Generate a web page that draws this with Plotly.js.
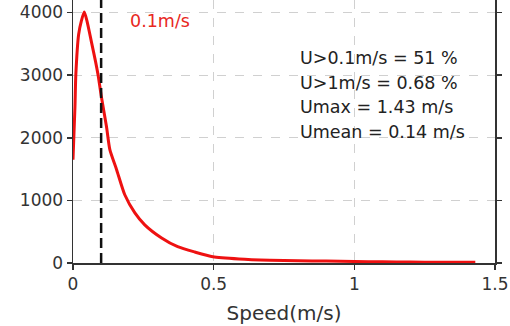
<!DOCTYPE html>
<html>
<head>
<meta charset="utf-8">
<script src="https://cdn.plot.ly/plotly-3.0.1.min.js"></script>
<style>
  html, body { margin: 0; padding: 0; background: #fff; }
  #chart { width: 510px; height: 326px; }
</style>
</head>
<body>
<div id="chart"></div>
<script>
// Flow speed distribution: number of samples per speed bin
const speed = [0, 0.007, 0.01, 0.02, 0.03, 0.04, 0.05, 0.066, 0.08, 0.09, 0.10, 0.119, 0.131, 0.155,
               0.184, 0.22, 0.255, 0.315, 0.372, 0.433, 0.497, 0.59, 0.7, 0.8, 0.9,
               1.0, 1.1, 1.2, 1.3, 1.43];
const count = [1650, 2500, 3000, 3650, 3870, 4010, 3860, 3520, 3220, 2980, 2680, 2180, 1810, 1490,
               1090, 800, 610, 400, 260, 175, 100, 65, 45, 36, 30,
               24, 19, 15, 12, 10];

// Reference speed threshold and summary statistics
const threshold = 0.1;
const thresholdLabel = '0.1m/s';
const statLines = ['U>0.1m/s = 51 %', 'U>1m/s = 0.68 %', 'Umax = 1.43 m/s', 'Umean = 0.14 m/s'];

const xTicks = [0, 0.5, 1, 1.5];
const xTickText = ['0', '0.5', '1', '1.5'];
const yTicks = [0, 1000, 2000, 3000, 4000];
const yTickText = ['0', '1000', '2000', '3000', '4000'];

const font = 'DejaVu Sans, Arial, sans-serif';
const tickSize = 17;
const textSize = 17.5;
const titleSize = 20;

const trace = {
  x: speed,
  y: count,
  type: 'scatter',
  mode: 'lines',
  line: { color: '#ee1111', width: 3, shape: 'spline', smoothing: 0.6 },
  hoverinfo: 'skip'
};

const statAnnotations = statLines.map((t, i) => ({
  x: 0.8, xref: 'x', xanchor: 'left',
  y: 0, yref: 'paper', yanchor: 'middle',
  text: t, showarrow: false,
  font: { family: font, size: textSize, color: '#222' },
  yshift: 263 - 58 - i * 24.7
}));

const layout = {
  width: 510, height: 326,
  margin: { l: 73, r: 15, t: 0, b: 63 },
  paper_bgcolor: '#fff', plot_bgcolor: '#fff',
  showlegend: false,
  font: { family: font, size: tickSize, color: '#333' },
  xaxis: {
    range: [0, 1.5],
    tickvals: xTicks, ticktext: xTickText,
    ticks: 'outside', ticklen: 5, tickwidth: 1.5, tickcolor: '#333',
    showline: true, linecolor: '#333', linewidth: 1.5, mirror: 'ticks',
    showgrid: true, gridcolor: '#d0d0d0', griddash: 'dash', gridwidth: 1,
    zeroline: false,
    tickfont: { family: font, size: tickSize, color: '#333' },
    title: { text: 'Speed(m/s)', font: { family: font, size: titleSize, color: '#333' }, standoff: 13 }
  },
  yaxis: {
    range: [0, 4200],
    tickvals: yTicks, ticktext: yTickText,
    ticks: 'outside', ticklen: 5, tickwidth: 1.5, tickcolor: '#333',
    showline: true, linecolor: '#333', linewidth: 1.5, mirror: 'ticks',
    showgrid: true, gridcolor: '#d0d0d0', griddash: 'dash', gridwidth: 1,
    zeroline: false,
    tickfont: { family: font, size: tickSize, color: '#333' }
  },
  shapes: [{
    type: 'line', xref: 'x', yref: 'paper',
    x0: threshold, x1: threshold, y0: 0, y1: 1,
    line: { color: '#111', width: 2.5, dash: '10px,5px' }
  }],
  annotations: [{
    x: threshold, xref: 'x', xanchor: 'left', xshift: 27,
    y: 3860, yref: 'y', yanchor: 'middle',
    text: thresholdLabel, showarrow: false,
    font: { family: font, size: textSize, color: '#e8281e' }
  }].concat(statAnnotations)
};

Plotly.newPlot('chart', [trace], layout, { staticPlot: true, displayModeBar: false });
</script>
</body>
</html>
